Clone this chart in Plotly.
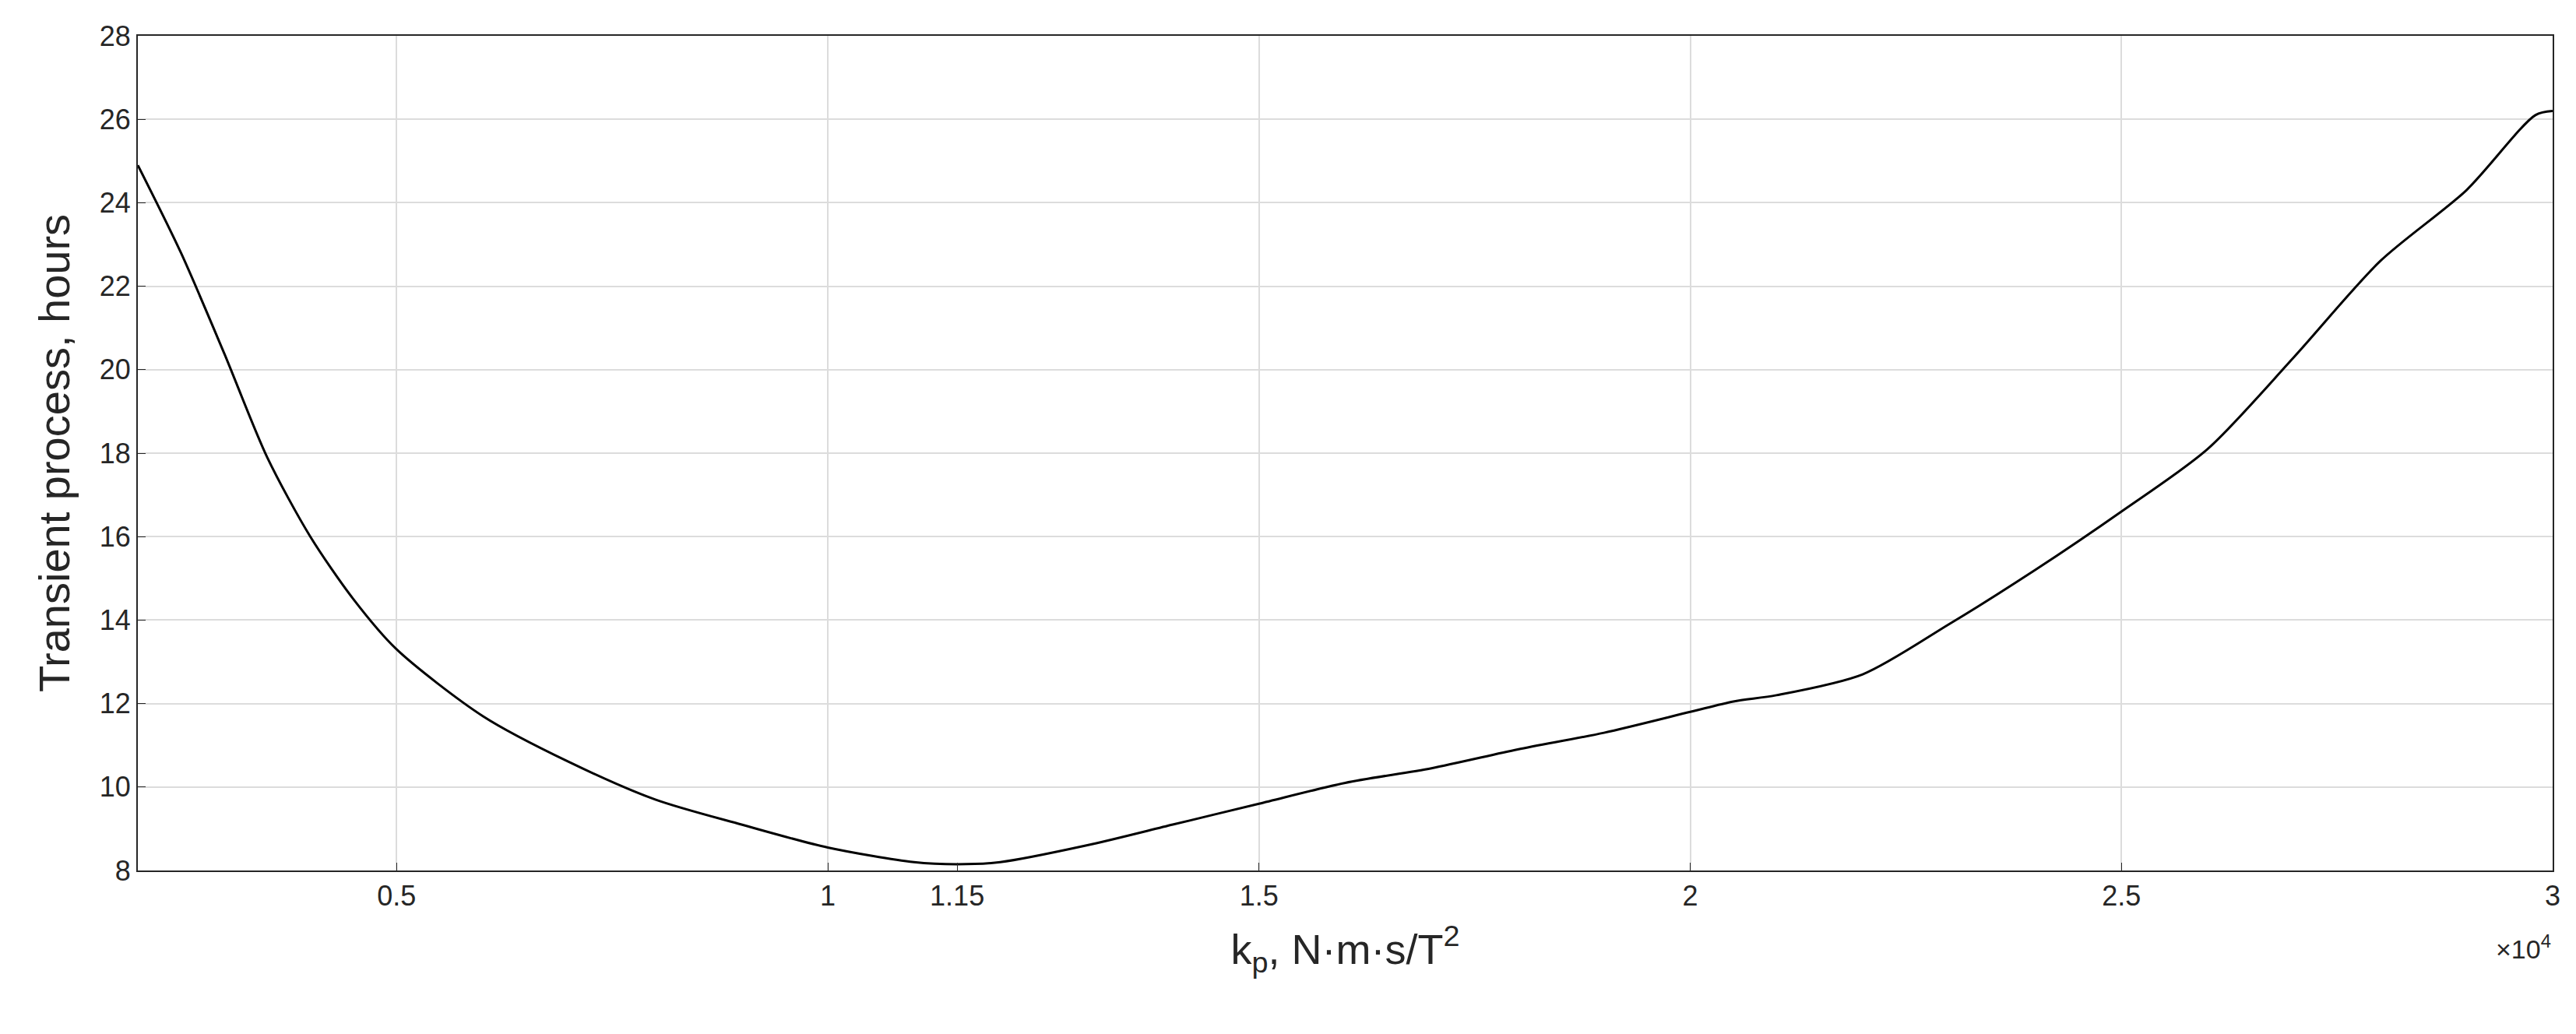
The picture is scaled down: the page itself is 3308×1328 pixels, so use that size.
import plotly.graph_objects as go

kp = [0.2,0.25,0.3,0.35,0.4,0.45,0.5,0.6,0.7,0.8,0.9,1.0,1.1,1.15,1.2,1.3,1.4,1.5,1.6,1.7,1.8,1.9,2.0,2.05,2.1,2.2,2.3,2.4,2.5,2.6,2.7,2.8,2.9,2.98,3.0]
hours = [24.9,22.8,20.4,17.9,16.0,14.5,13.3,11.7,10.6,9.7,9.1,8.55,8.2,8.15,8.2,8.6,9.1,9.6,10.1,10.45,10.9,11.3,11.8,12.05,12.2,12.7,13.9,15.2,16.6,18.1,20.3,22.6,24.3,26.1,26.2]
xticks = [0.5,1,1.15,1.5,2,2.5,3]
xticklabels = ["0.5","1","1.15","1.5","2","2.5","3"]
xgrid = [0.5,1,1.5,2,2.5,3]
yticks = list(range(8,29,2))

fig = go.Figure()
fig.add_trace(go.Scatter(x=kp, y=hours, mode="lines", line=dict(color="black", width=3, shape="spline", smoothing=0.8), showlegend=False))
fig.add_trace(go.Scatter(x=[None], y=[None], xaxis="x2", showlegend=False))

font = dict(family="Liberation Sans, Arial", color="#262626")
fig.update_layout(
    width=3308, height=1328, plot_bgcolor="white", paper_bgcolor="white",
    margin=dict(l=169, r=38, t=38, b=218), font=font,
    xaxis=dict(range=[0.2,3.0], tickvals=xticks, ticktext=xticklabels, showgrid=False,
               showline=True, mirror=True, linecolor="#262626", linewidth=2,
               ticks="inside", ticklen=10, tickcolor="#262626", tickfont=dict(size=36), zeroline=False,
               title=dict(text="k<sub>p</sub>, N·m·s/T<sup>2</sup>", font=dict(size=54), standoff=30)),
    xaxis2=dict(range=[0.2,3.0], overlaying="x", tickvals=xgrid, showticklabels=False, showgrid=True,
                gridcolor="#dcdcdc", gridwidth=2, zeroline=False, ticks=""),
    yaxis=dict(range=[8,28], tickvals=yticks, showgrid=True, gridcolor="#dcdcdc", gridwidth=2,
               showline=True, mirror=True, linecolor="#262626", linewidth=2, zeroline=False,
               ticks="inside", ticklen=10, tickcolor="#262626", tickfont=dict(size=36),
               title=dict(text="Transient process, hours", font=dict(size=56), standoff=20)),
    annotations=[dict(text="×10<sup>4</sup>", xref="paper", yref="paper", x=1.0, y=-0.07,
                      xanchor="right", yanchor="top", showarrow=False, font=dict(size=34, color="#262626"))],
)
fig.write_html("out.html")
